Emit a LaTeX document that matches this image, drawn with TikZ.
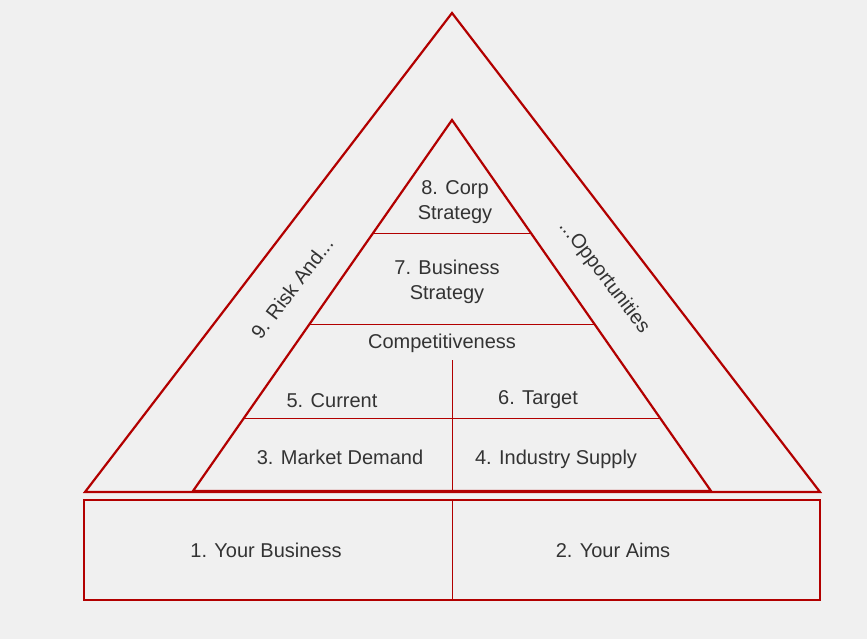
\documentclass[tikz,border=0pt]{standalone}
\usepackage{fontspec}
\setmainfont{Liberation Sans}
\begin{document}
\begin{tikzpicture}[x=1pt,y=-1pt,
  thick/.style={draw=red!70!black,line width=2.2pt},
  thin/.style={draw=red!70!black,line width=0.9pt},
  lbl/.style={font=\fontsize{20}{25}\selectfont,text=black!80,align=center,inner sep=1pt}]
\fill[black!6] (0,0) rectangle (867,639);
\useasboundingbox (0,0) rectangle (867,639);
\coordinate (oa) at (452,13); \coordinate (ol) at (85,492); \coordinate (or) at (820,492);
\coordinate (ia) at (452,120); \coordinate (il) at (193,491); \coordinate (ir) at (711,491);
\draw[thick] (oa) -- (ol) -- (or) -- cycle;
\draw[thick] (ia) -- (il) -- (ir) -- cycle;
\draw[thick] (84,500) rectangle (820,600);
\draw[thin] (452,500) -- (452,600);
\draw[thin] (373,233) -- (531,233);
\draw[thin] (310,324) -- (594,324);
\draw[thin] (244,418) -- (660,418);
\draw[thin] (452,360) -- (452,491);
\node[lbl] (n8) at (455,202) {8. Corp\\Strategy};
\node[lbl] (n7) at (447,282) {7. Business\\Strategy};
\node[lbl] (nc) at (442,343) {Competitiveness};
\node[lbl] (n5) at (332,401) {5. Current};
\node[lbl] (n6) at (538,400) {6. Target};
\node[lbl] (n3) at (340,457) {3. Market Demand};
\node[lbl] (n4) at (556,459) {4. Industry Supply};
\node[lbl] (n1) at (266,550) {1. Your Business};
\node[lbl] (n2) at (613,550) {2. Your Aims};
\node[lbl,rotate=52.5] (n9) at (292,288) {9. Risk And...};
\node[lbl,rotate=-52.5] (no) at (604,277) {...Opportunities};
\end{tikzpicture}
\end{document}
